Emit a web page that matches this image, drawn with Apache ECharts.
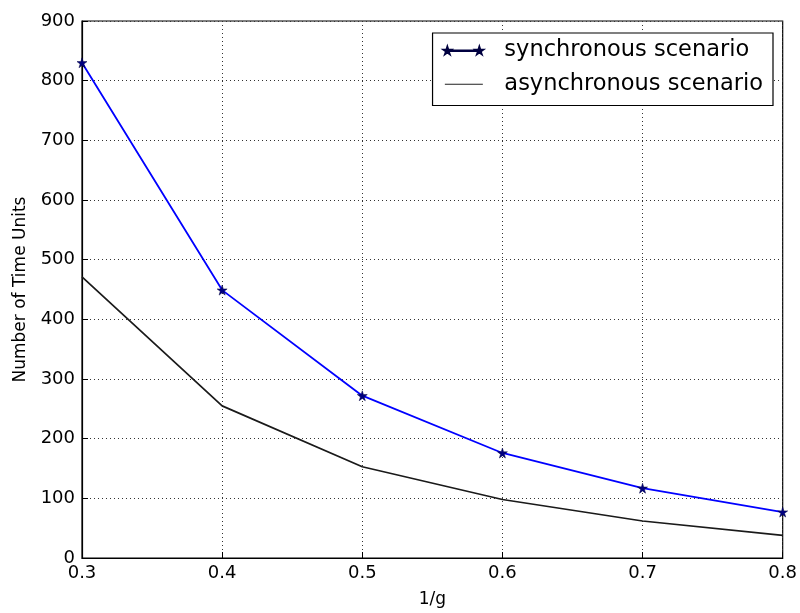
<!DOCTYPE html>
<html>
<head>
<meta charset="utf-8">
<script src="https://cdn.jsdelivr.net/npm/echarts@6/dist/echarts.min.js"></script>
<style>
  html, body { margin: 0; padding: 0; background: #fff; overflow: hidden; }
  #chart { width: 800px; height: 613px; }
</style>
</head>
<body>
<div id="chart"></div>
<script>
// x values (1/g) and the time-unit counts for both scenarios
const invG = [0.3, 0.4, 0.5, 0.6, 0.7, 0.8];
const syncTimes = [830, 449, 272, 176, 117, 77];
const asyncTimes = [471, 255, 153, 98, 62, 38];
const seriesNames = ['synchronous scenario', 'asynchronous scenario'];

const FONT = 'DejaVu Sans';
// five-pointed star marker
const STAR = 'path://M50,0 L61,35 L98,35 L68,57 L79,91 L50,70 L21,91 L32,57 L2,35 L39,35 Z';
// legend key: two small stars joined by a thin line
const STAR_PTS = [[4,0],[4.9,2.8],[7.8,2.8],[5.4,4.6],[6.3,7.3],[4,5.6],[1.7,7.3],[2.6,4.6],[0.2,2.8],[3.1,2.8]];
const starAt = dx => 'M' + STAR_PTS.map(p => (p[0] + dx).toFixed(1) + ',' + p[1]).join(' L') + ' Z';
const SYNC_KEY = 'path://' + starAt(0) + ' ' + starAt(32) + ' M4,3.6 L36,3.6 L36,4.2 L4,4.2 Z';
// legend key: plain line (tiny anchors keep the full key height)
const LINE_KEY = 'path://M0,0 L0.01,0 Z M0,7.3 L0.01,7.3 Z M1,3.3 L39,3.3 L39,4.3 L1,4.3 Z';

const chart = echarts.init(document.getElementById('chart'));
chart.setOption({
  animation: false,
  textStyle: { fontFamily: FONT },
  grid: {
    left: 82, right: 14, top: 21, bottom: 52,
    show: true, borderColor: '#000', borderWidth: 1.2
  },
  legend: {
    orient: 'vertical',
    right: 27, top: 33,
    padding: [6, 10, 10, 10],
    itemGap: 10.5,
    itemWidth: 40, itemHeight: 7.3,
    borderColor: '#000', borderWidth: 1.2,
    backgroundColor: '#fff',
    textStyle: { fontFamily: FONT, fontSize: 22.5, color: '#000', padding: [0, 0, 0, 16] },
    data: [
      { name: seriesNames[0], icon: SYNC_KEY, itemStyle: { color: '#0000b0' } },
      { name: seriesNames[1], icon: LINE_KEY, itemStyle: { color: '#222' } }
    ]
  },
  xAxis: {
    type: 'value',
    min: 0.3, max: 0.8, interval: 0.1,
    name: '1/g', nameLocation: 'middle', nameGap: 33,
    nameTextStyle: { fontFamily: FONT, fontSize: 17, color: '#000' },
    axisLine: { show: true, lineStyle: { color: '#000', width: 1.2 } },
    axisTick: { show: true, inside: true, length: 6, lineStyle: { color: '#000' } },
    axisLabel: { fontFamily: FONT, fontSize: 18, color: '#000', margin: 6,
      formatter: v => v.toFixed(1) },
    splitLine: { show: true, lineStyle: { color: '#333', type: [1, 3], width: 1 } }
  },
  yAxis: {
    type: 'value',
    min: 0, max: 900, interval: 100,
    name: 'Number of Time Units', nameLocation: 'middle', nameGap: 53,
    nameTextStyle: { fontFamily: FONT, fontSize: 17, color: '#000' },
    axisLine: { show: true, lineStyle: { color: '#000', width: 1.2 } },
    axisTick: { show: true, inside: true, length: 6, lineStyle: { color: '#000' } },
    axisLabel: { fontFamily: FONT, fontSize: 18, color: '#000', margin: 7 },
    splitLine: { show: true, lineStyle: { color: '#333', type: [1, 3], width: 1 } }
  },
  series: [
    {
      name: seriesNames[0],
      type: 'line',
      data: invG.map((x, i) => [x, syncTimes[i]]),
      symbol: STAR, symbolSize: 10,
      showAllSymbol: true,
      clip: false,
      lineStyle: { color: '#0000ff', width: 1.8 },
      itemStyle: { color: '#000080', borderColor: '#000040', borderWidth: 0.5 },
      z: 3
    },
    {
      name: seriesNames[1],
      type: 'line',
      data: invG.map((x, i) => [x, asyncTimes[i]]),
      symbol: 'none',
      lineStyle: { color: '#1a1a1a', width: 1.7 },
      itemStyle: { color: '#1a1a1a' },
      z: 2
    }
  ]
});
</script>
</body>
</html>
